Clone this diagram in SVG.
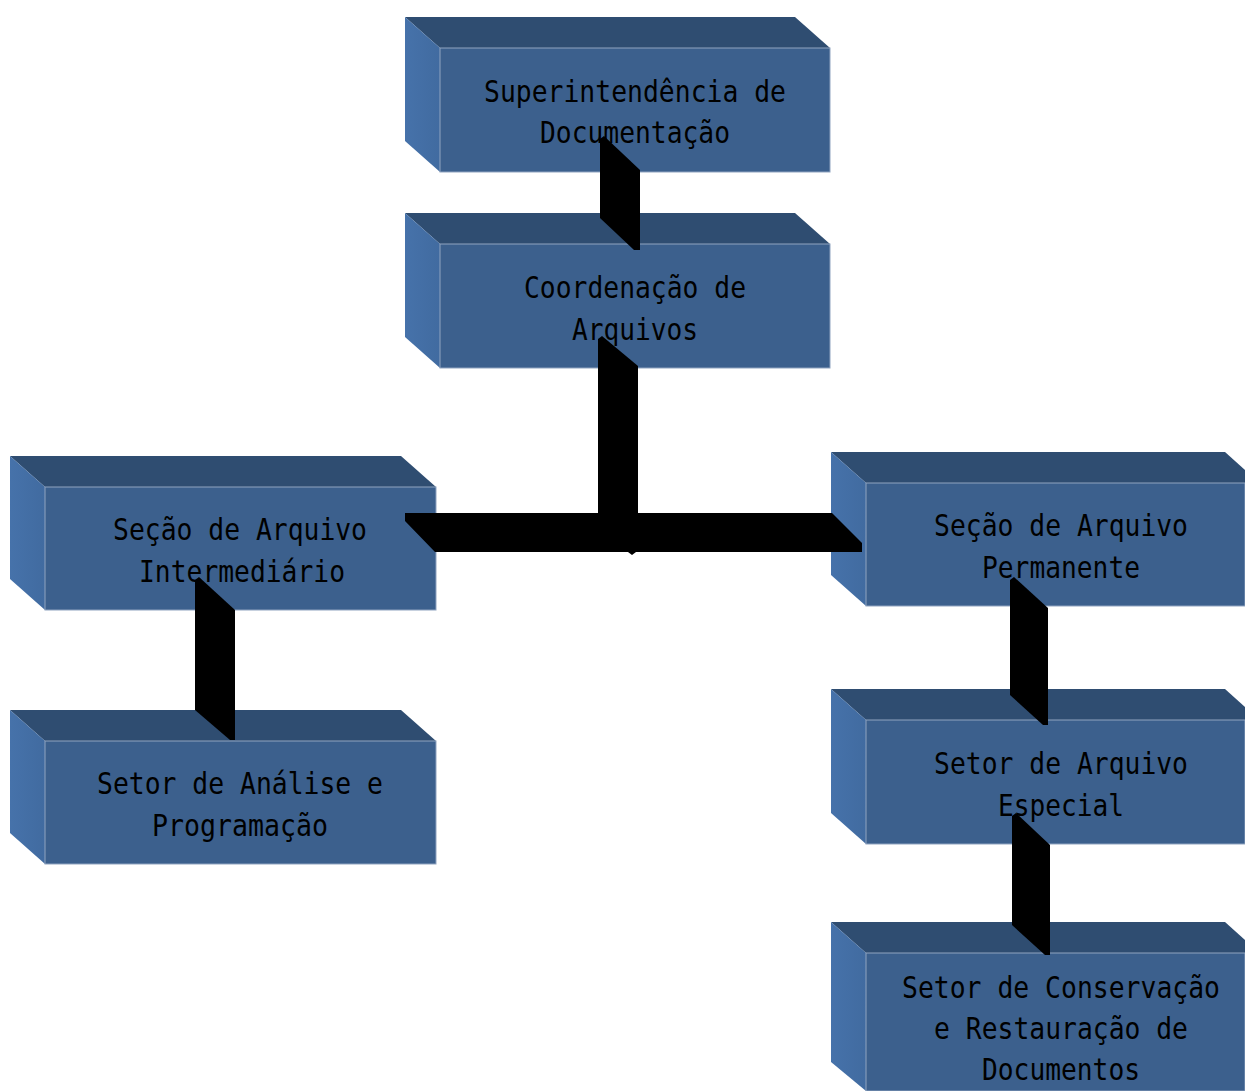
<svg xmlns="http://www.w3.org/2000/svg" width="1245" height="1091" viewBox="0 0 1245 1091">
<defs>
<linearGradient id="lg" x1="0" y1="0" x2="1" y2="0">
<stop offset="0" stop-color="#4672AA"/>
<stop offset="1" stop-color="#416BA0"/>
</linearGradient>
<style>
.top{fill:#2F4D71}
.left{fill:url(#lg)}
.front{fill:#3C608D;stroke:#8FA3BF;stroke-width:1}
.t{font-family:"DejaVu Sans Mono","Liberation Mono",monospace;font-size:30px;fill:#000;text-anchor:middle}
.c{fill:#000}
</style>
</defs>
<rect width="1245" height="1091" fill="#fff"/>
<g id="n1">
<polygon class="top" points="405,17 795,17 830,48 440,48"/>
<polygon class="left" points="405,17 440,48 440,172 405,141"/>
<rect class="front" x="440" y="48" width="390" height="124"/>
<text class="t" x="635" y="102" textLength="302" lengthAdjust="spacingAndGlyphs">Superintendência de</text>
<text class="t" x="635" y="143" textLength="190" lengthAdjust="spacingAndGlyphs">Documentação</text>
</g>
<g id="n2">
<polygon class="top" points="405,213 795,213 830,244 440,244"/>
<polygon class="left" points="405,213 440,244 440,368 405,337"/>
<rect class="front" x="440" y="244" width="390" height="124"/>
<text class="t" x="635" y="298" textLength="222" lengthAdjust="spacingAndGlyphs">Coordenação de</text>
<text class="t" x="635" y="340" textLength="126" lengthAdjust="spacingAndGlyphs">Arquivos</text>
</g>
<g id="n3">
<polygon class="top" points="10,456 401,456 436,487 45,487"/>
<polygon class="left" points="10,456 45,487 45,610 10,579"/>
<rect class="front" x="45" y="487" width="391" height="123"/>
<text class="t" x="240" y="540" textLength="254" lengthAdjust="spacingAndGlyphs">Seção de Arquivo</text>
<text class="t" x="242" y="582" textLength="206" lengthAdjust="spacingAndGlyphs">Intermediário</text>
</g>
<g id="n4">
<polygon class="top" points="10,710 401,710 436,741 45,741"/>
<polygon class="left" points="10,710 45,741 45,864 10,833"/>
<rect class="front" x="45" y="741" width="391" height="123"/>
<text class="t" x="240" y="794" textLength="286" lengthAdjust="spacingAndGlyphs">Setor de Análise e</text>
<text class="t" x="240" y="836" textLength="176" lengthAdjust="spacingAndGlyphs">Programação</text>
</g>
<g id="n5">
<polygon class="top" points="831,452 1225,452 1245,470 1245,483 866,483"/>
<polygon class="left" points="831,452 866,483 866,606 831,575"/>
<rect class="front" x="866" y="483" width="379" height="123"/>
<text class="t" x="1061" y="536" textLength="254" lengthAdjust="spacingAndGlyphs">Seção de Arquivo</text>
<text class="t" x="1061" y="578" textLength="158" lengthAdjust="spacingAndGlyphs">Permanente</text>
</g>
<g id="n6">
<polygon class="top" points="831,689 1225,689 1245,707 1245,720 866,720"/>
<polygon class="left" points="831,689 866,720 866,844 831,813"/>
<rect class="front" x="866" y="720" width="379" height="124"/>
<text class="t" x="1061" y="774" textLength="254" lengthAdjust="spacingAndGlyphs">Setor de Arquivo</text>
<text class="t" x="1061" y="816" textLength="126" lengthAdjust="spacingAndGlyphs">Especial</text>
</g>
<g id="n7">
<polygon class="top" points="831,922 1225,922 1245,940 1245,953 866,953"/>
<polygon class="left" points="831,922 866,953 866,1091 831,1062"/>
<rect class="front" x="866" y="953" width="379" height="138"/>
<text class="t" x="1061" y="998" textLength="318" lengthAdjust="spacingAndGlyphs">Setor de Conservação</text>
<text class="t" x="1061" y="1039" textLength="254" lengthAdjust="spacingAndGlyphs">e Restauração de</text>
<text class="t" x="1061" y="1080" textLength="158" lengthAdjust="spacingAndGlyphs">Documentos</text>
</g>
<g id="connectors">
<polygon class="c" points="600,139 604,136 640,170 640,250 634,250 600,218"/>
<polygon class="c" points="598,339 602,336 638,366 638,530 598,530"/>
<polygon class="c" points="405,513 832,513 862,543 862,552 636,552 632,555 628,552 435,552 405,521"/>
<polygon class="c" points="195,580 199,577 235,610 235,740 230,740 195,710"/>
<polygon class="c" points="1010,580 1014,577 1048,608 1048,725 1043,725 1010,695"/>
<polygon class="c" points="1012,816 1016,813 1050,845 1050,955 1045,955 1012,925"/>
</g>
</svg>
